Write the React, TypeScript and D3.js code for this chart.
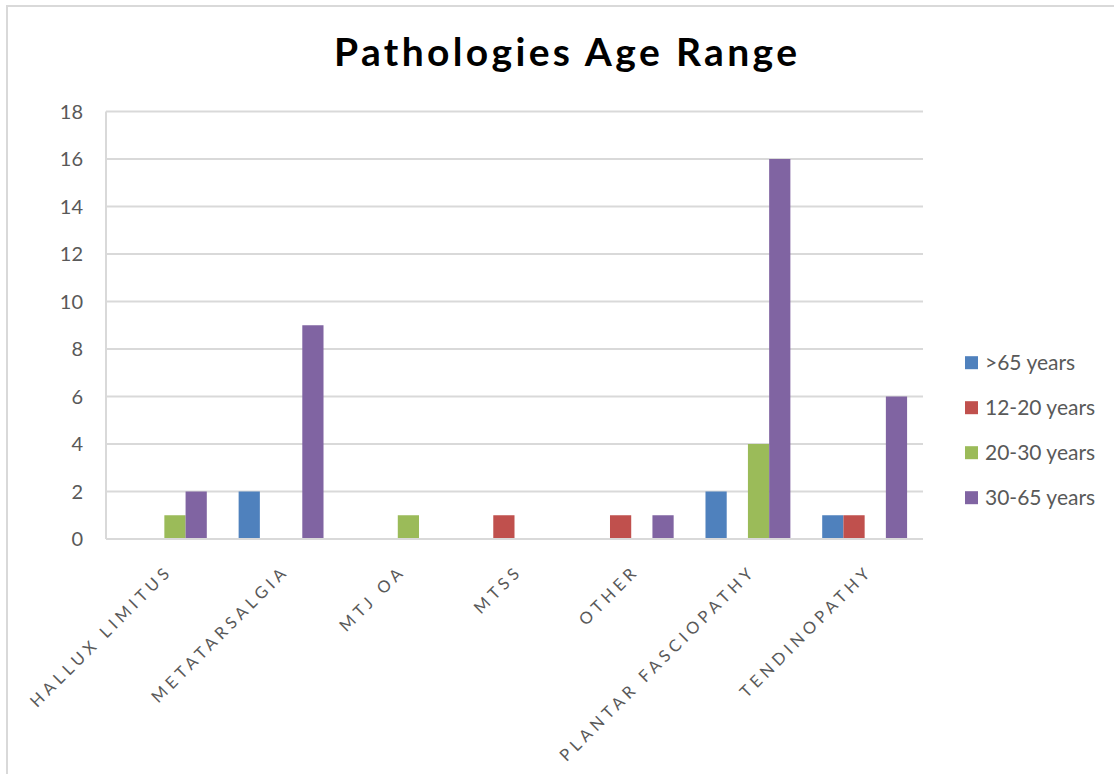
import React from "react";
import * as d3 from "d3";

const categories = ["HALLUX LIMITUS", "METATARSALGIA", "MTJ OA", "MTSS", "OTHER", "PLANTAR FASCIOPATHY", "TENDINOPATHY"];
const seriesNames = [">65 years", "12-20 years", "20-30 years", "30-65 years"];
const over65 = [0, 2, 0, 0, 0, 2, 1];
const age12to20 = [0, 0, 0, 1, 1, 0, 1];
const age20to30 = [1, 0, 1, 0, 0, 4, 0];
const age30to65 = [2, 9, 0, 0, 1, 16, 6];
const yTicks = [0, 2, 4, 6, 8, 10, 12, 14, 16, 18];
const colors = ["#4F81BD", "#C0504D", "#9BBB59", "#8064A2"];

const W = 1114, H = 774;
const plot = { left: 106, right: 923, top: 111.5, bottom: 539 };
const FONT = "Lato, 'Open Sans', sans-serif";

export default function App() {
  const series = [over65, age12to20, age20to30, age30to65];
  const x = d3.scaleBand<string>().domain(categories).range([plot.left, plot.right]).paddingInner(0).paddingOuter(0);
  const bw = x.bandwidth() / 5.5;
  const inner = d3.scaleBand<number>().domain(d3.range(4)).range([0.75 * bw, 4.75 * bw]).padding(0);
  const y = d3.scaleLinear().domain([0, 18]).range([plot.bottom, plot.top]);

  return (
    <svg width={W} height={H} style={{ position: "absolute", left: 0, top: 0, background: "#fff" }}>
      <rect x={7} y={6} width={W + 10} height={H + 10} fill="#fff" stroke="#d9d9d9" strokeWidth={2} />
      <text x={334} y={66} textLength={463} lengthAdjust="spacing" fontFamily={FONT} fontWeight={700} fontSize={39} fill="#000">
        Pathologies Age Range
      </text>
      {yTicks.map((t) => (
        <g key={t}>
          <line x1={plot.left} x2={plot.right} y1={y(t)} y2={y(t)} stroke="#d9d9d9" strokeWidth={2} />
          <text x={83} y={y(t)} dy="0.36em" textAnchor="end" fontFamily={FONT} fontSize={20} fill="#595959">{t}</text>
        </g>
      ))}
      <line x1={plot.left} x2={plot.left} y1={plot.top} y2={plot.bottom} stroke="#d9d9d9" strokeWidth={2} />
      {series.map((vals, si) =>
        vals.map((v, ci) =>
          v > 0 ? (
            <rect key={`${si}-${ci}`} x={(x(categories[ci]) as number) + (inner(si) as number)} y={y(v)} width={inner.bandwidth()} height={y(0) - y(v)} fill={colors[si]} />
          ) : null
        )
      )}
      <line x1={plot.left} x2={plot.right} y1={plot.bottom} y2={plot.bottom} stroke="#d9d9d9" strokeWidth={2} />
      {categories.map((c) => {
        const cx = (x(c) as number) + x.bandwidth() / 2 + 9;
        const cy = 572;
        return (
          <text key={c} x={cx} y={cy} transform={`rotate(-45 ${cx} ${cy})`} textAnchor="end" fontFamily={FONT} fontSize={16.5} letterSpacing={4.4} fill="#595959">
            {c}
          </text>
        );
      })}
      {seriesNames.map((n, i) => {
        const ly = 362.7 + i * 45;
        return (
          <g key={n}>
            <rect x={965} y={ly - 6.5} width={13} height={13} fill={colors[i]} />
            <text x={985} y={ly} dy="0.36em" fontFamily={FONT} fontSize={21} fill="#595959">{n}</text>
          </g>
        );
      })}
    </svg>
  );
}
